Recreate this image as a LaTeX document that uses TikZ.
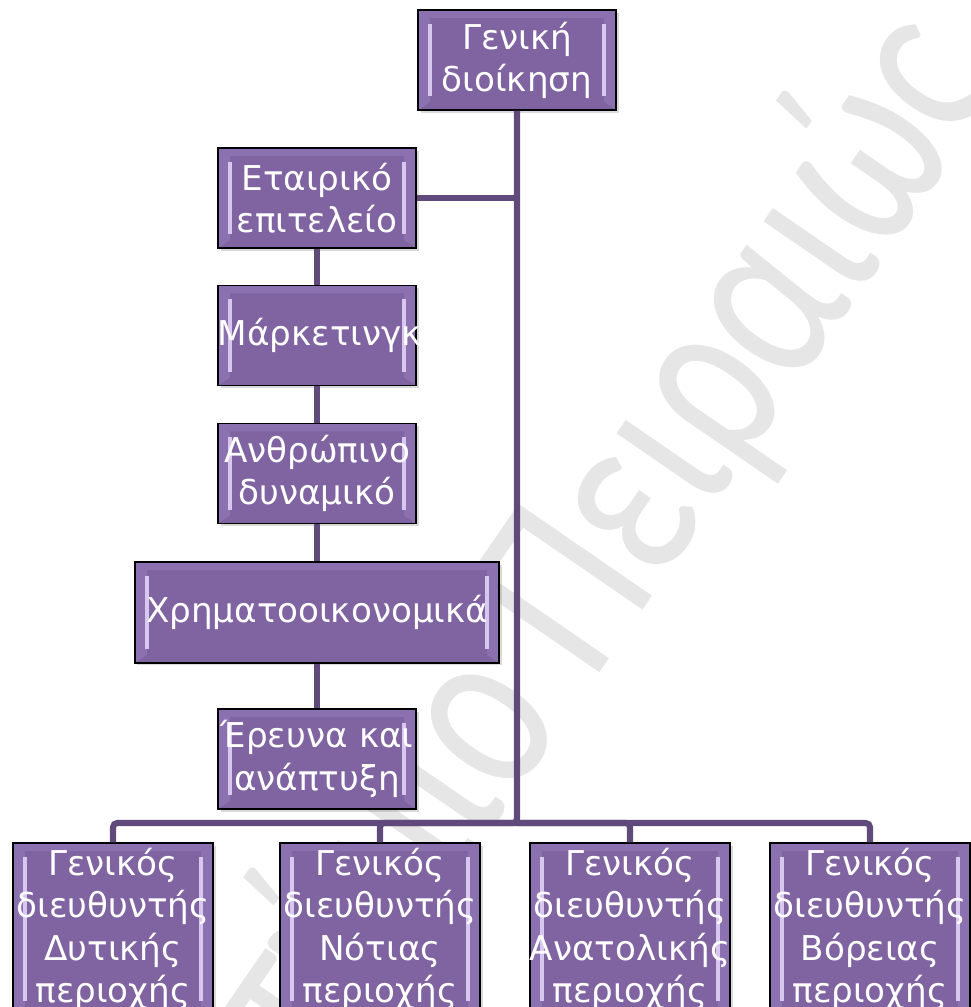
\documentclass[tikz,border=0pt]{standalone}
\usepackage{fontspec}
\setmainfont{DejaVu Sans}
\newfontfamily\markfont{Carlito}
\usepackage{tikz}
\usetikzlibrary{calc,shadows}
\definecolor{unitpurple}{RGB}{128,100,162}
\definecolor{linkpurple}{RGB}{96,74,123}
\definecolor{bevelband}{RGB}{140,113,176}
\definecolor{bevellight}{RGB}{216,200,240}
\definecolor{markgray}{RGB}{230,230,230}

\begin{document}
\begin{tikzpicture}[x=0.025cm, y=-0.025cm]
    \tikzstyle{unit} = [rectangle, draw=black, line width=1pt, fill=unitpurple, text=white, align=center, inner sep=0pt,
        font=\fontsize{24.3pt}{30pt}\selectfont,
        drop shadow={shadow xshift=1.8pt, shadow yshift=-1.8pt, opacity=0.3},
        path picture={
            \coordinate (pnw) at (path picture bounding box.north west);
            \coordinate (psw) at (path picture bounding box.south west);
            \coordinate (pne) at (path picture bounding box.north east);
            \coordinate (pse) at (path picture bounding box.south east);
            \fill [bevelband] (pnw) -- (pne) -- ($(pne)+(-12,8)$) -- ($(pnw)+(12,8)$) -- cycle;
            \fill [bevelband] (pnw) -- ($(pnw)+(12,8)$) -- ($(psw)+(12,-8)$) -- (psw) -- cycle;
            \fill [bevelband] (pne) -- ($(pne)+(-12,8)$) -- ($(pse)+(-12,-8)$) -- (pse) -- cycle;
            \draw [bevellight, line width=2.4pt] ($(pnw)+(12,14)$) -- ($(psw)+(12,-14)$);
            \draw [bevellight, line width=2.4pt] ($(pne)+(-12,14)$) -- ($(pse)+(-12,-14)$);
        }]
    \tikzstyle{dept} = [unit, minimum width=4.95cm, text width=4.95cm, minimum height=2.5cm]
    \tikzstyle{widedept} = [unit, minimum width=9.1cm, text width=9.1cm, minimum height=2.52cm]
    \tikzstyle{region} = [unit, minimum width=5cm, text width=5cm, minimum height=4.3cm]
    \tikzstyle{link} = [draw=linkpurple, line width=4.3pt, rounded corners=3pt]
    \tikzstyle{watermark} = [transform shape, anchor=base west, inner sep=0pt, text=markgray, font=\markfont\fontsize{136pt}{136pt}\selectfont]

    \useasboundingbox (0,0) rectangle (971,1007);
    \clip (0,0) rectangle (971,1007);

    % Watermark
    \begin{scope}[shift={(592,684)}, rotate=55.5, yscale=1.32]
        \node [watermark] (uni) at (0,0) {\llap{Πανεπιστήμιο }Πειραιώς};
    \end{scope}

    % Top management
    \node [dept] (gen) at (517,60) {Γενική\\διοίκηση};

    % Staff departments
    \node [dept] (staff) at (317,198) {Εταιρικό\\επιτελείο};
    \node [dept] (mkt) at (317,335.5) {Μάρκετινγκ};
    \node [dept] (hr) at (317,473.5) {Ανθρώπινο\\δυναμικό};
    \node [widedept] (fin) at (317,612.5) {Χρηματοοικονομικά};
    \node [dept] (rnd) at (317,759) {Έρευνα και\\ανάπτυξη};

    % Regional managers
    \node [region] (west) at (113,929) {Γενικός\\διευθυντής\\Δυτικής\\περιοχής};
    \node [region] (south) at (380,929) {Γενικός\\διευθυντής\\Νότιας\\περιοχής};
    \node [region] (east) at (630,929) {Γενικός\\διευθυντής\\Ανατολικής\\περιοχής};
    \node [region] (north) at (870,929) {Γενικός\\διευθυντής\\Βόρειας\\περιοχής};

    % Connections
    \coordinate (hub) at (517,823);
    \draw [link] (gen) -- (hub) -| (west);
    \draw [link] (hub) -| (south);
    \draw [link] (hub) -| (east);
    \draw [link] (hub) -| (north);

    \draw [link] (staff) -- (staff -| gen);
    \draw [link] (staff) -- (mkt);
    \draw [link] (mkt) -- (hr);
    \draw [link] (hr) -- (fin);
    \draw [link] (fin) -- (rnd);
\end{tikzpicture}
\end{document}
